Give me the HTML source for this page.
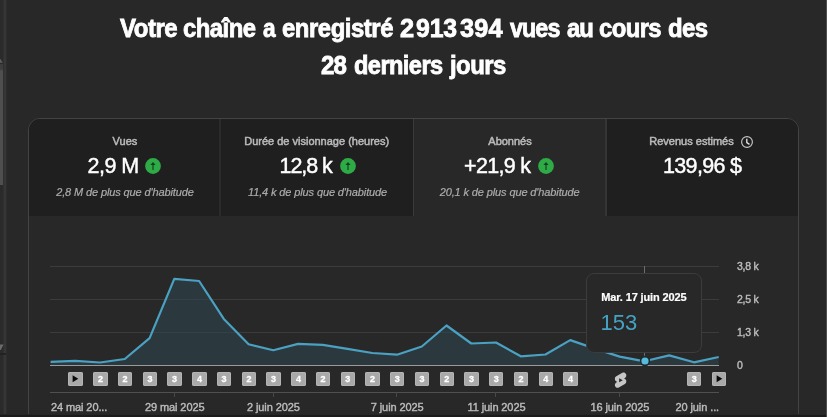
<!DOCTYPE html>
<html lang="fr">
<head>
<meta charset="utf-8">
<title>Analytics</title>
<style>
  html, body { margin: 0; padding: 0; }
  body {
    width: 827px; height: 417px; overflow: hidden; position: relative;
    background: #282828; color: #fff;
    font-family: "Liberation Sans", sans-serif;
  }
  #root { position: absolute; left: 0; top: 0; width: 827px; height: 417px; overflow: hidden; will-change: transform; }
  .abs { position: absolute; }
  /* left scrollbar */
  #sb-track { left: 0; top: 0; width: 8px; height: 415px; background: linear-gradient(to right, #2a2a2a 0, #2b2b2b 3px, #363636 4.3px, #363636 5.6px, #282828 7px); }
  #sb-thumb { left: 0; top: 64px; width: 3px; height: 120.5px; background: linear-gradient(to bottom, #3c3c3c 0, #3e3e3e 5px, #4f4f4f 7px, #4f4f4f 100%); }
  /* title */
  .tw { position: absolute; transform-origin: 0 0; font-weight: bold; font-size: 25px; line-height: 28px; white-space: nowrap; color: #fff; -webkit-text-stroke: 0.8px #fff; }
  /* card */
  #card { left: 28px; top: 118px; width: 771px; height: 320px; border: 1px solid #444; border-radius: 12px; box-sizing: border-box; overflow: hidden; }
  .tab { top: 0; height: 97px; background: #1f1f1f; text-align: center; }
  .tab.sel { background: #282828; }
  .lbl { top: 134px; font-size: 11px; line-height: 14px; color: #bababa; white-space: nowrap; -webkit-text-stroke: 0.5px #bababa; }
  .val { top: 153px; font-size: 21.5px; line-height: 26px; color: #fff; white-space: nowrap; -webkit-text-stroke: 0.45px #fff; }
  .sub { top: 184.7px; font-size: 11px; line-height: 14px; color: #acacac; font-style: italic; white-space: nowrap; letter-spacing: -0.12px; -webkit-text-stroke: 0.2px #acacac; }
  .div { top: 0; width: 2px; height: 97px; background: #2b2b2b; }
  /* chart */
  .ylab { left: 737px; font-size: 10.5px; line-height: 14px; color: #bcbcbc; white-space: nowrap; letter-spacing: -0.25px; -webkit-text-stroke: 0.4px #bcbcbc; }
  .xlab { top: 400px; font-size: 11px; line-height: 14px; color: #bcbcbc; white-space: nowrap; letter-spacing: -0.1px; -webkit-text-stroke: 0.4px #bcbcbc; }
  .mk { top: 372px; width: 14.4px; height: 14px; border-radius: 2px; background: #a9a9a9; box-shadow: inset 0 0 0 1px #b4b4b4; color: #fff; -webkit-text-stroke: 0.3px #fff; font-size: 9px; font-weight: bold; line-height: 14px; text-align: center; }
  .mk svg { display: block; }
  #tip { left: 586px; top: 273px; width: 116px; height: 80px; box-sizing: border-box; border: 1px solid #3c3c3c; border-radius: 8px; background: #282828; }
  #tip .d { position: absolute; left: 14.2px; top: 15.5px; font-size: 11px; letter-spacing: -0.12px; -webkit-text-stroke: 0.2px #fff; line-height: 14px; font-weight: bold; color: #fff; white-space: nowrap; }
  #tip .v { position: absolute; left: 13.5px; top: 36px; font-size: 22px; line-height: 26px; color: #46a2c4; white-space: nowrap; }
  #bottom { left: 0; top: 414px; width: 827px; height: 3px; background: linear-gradient(to bottom, #262626 0, #262626 1px, #1b1b1b 1.4px, #1b1b1b 3px); }
  #redge { left: 826px; top: 0; width: 1px; height: 417px; background: #505050; }
</style>
</head>
<body>
<div id="root">
  <!-- scrollbar -->
  <div class="abs" id="sb-track"></div>
  <div class="abs" id="sb-thumb"></div>
  <svg class="abs" style="left:0;top:56px" width="6" height="8" viewBox="0 0 6 8"><path d="M0 6.8 L0 2.6 L2.8 6.8 Z" fill="#5e5e5e"/></svg>
  <svg class="abs" style="left:0;top:344px" width="6" height="8" viewBox="0 0 6 8"><path d="M0 0.4 L3.6 0.4 L0.8 6 L0 6 Z" fill="#6a6a6a"/></svg>
  <div class="abs" style="left:0;top:353px;width:6px;height:2px;background:#222"></div>

  <!-- title -->
  <span class="tw" style="left:119.7px;top:14px;letter-spacing:-0.51px;transform:scaleX(0.9593)">Votre</span>
  <span class="tw" style="left:183.2px;top:14px;letter-spacing:-0.56px;transform:scaleX(0.9551)">chaîne</span>
  <span class="tw" style="left:262.7px;top:14px;letter-spacing:0.00px;transform:scaleX(0.9058)">a</span>
  <span class="tw" style="left:282.4px;top:14px;letter-spacing:-0.47px;transform:scaleX(0.9553)">enregistré</span>
  <span class="tw" style="left:399.8px;top:14px;letter-spacing:0.00px;transform:scaleX(1.0156)">2</span>
  <span class="tw" style="left:416.4px;top:14px;letter-spacing:-0.13px;transform:scaleX(0.9919)">913</span>
  <span class="tw" style="left:460.4px;top:14px;letter-spacing:0.18px;transform:scaleX(1.0104)">394</span>
  <span class="tw" style="left:510.4px;top:14px;letter-spacing:-0.99px;transform:scaleX(0.9326)">vues</span>
  <span class="tw" style="left:567.1px;top:14px;letter-spacing:-1.04px;transform:scaleX(0.9527)">au</span>
  <span class="tw" style="left:599.4px;top:14px;letter-spacing:-0.61px;transform:scaleX(0.9539)">cours</span>
  <span class="tw" style="left:668.3px;top:14px;letter-spacing:-0.68px;transform:scaleX(0.9592)">des</span>
  <span class="tw" style="left:320.7px;top:51px;letter-spacing:-0.81px;transform:scaleX(0.9619)">28</span>
  <span class="tw" style="left:353.8px;top:51px;letter-spacing:-0.61px;transform:scaleX(0.9441)">derniers</span>
  <span class="tw" style="left:449.8px;top:51px;letter-spacing:-0.54px;transform:scaleX(0.9557)">jours</span>

  <!-- card -->
  <div class="abs" id="card">
    <div class="abs tab" style="left:0;width:192px"></div>
    <div class="abs tab" style="left:192px;width:193px"></div>
    <div class="abs tab sel" style="left:385px;width:192px"></div>
    <div class="abs tab" style="left:577px;width:194px"></div>
    <div class="abs div" style="left:190px"></div>
    <div class="abs div" style="left:384px;width:1px;background:#3a3a3a"></div>
    <div class="abs div" style="left:576px;width:2px;background:#353535"></div>
  </div>
  <div class="abs lbl" style="left:112.6px">Vues</div>
  <div class="abs lbl" style="left:244.2px">Durée de visionnage (heures)</div>
  <div class="abs lbl" style="left:488.3px">Abonnés</div>
  <div class="abs lbl" style="left:649.3px">Revenus estimés</div>
  <svg class="abs" style="left:740.2px;top:135.1px" width="14" height="14" viewBox="0 0 14 14"><circle cx="7" cy="7" r="5.4" fill="none" stroke="#c6c6c6" stroke-width="1.15"/><path d="M6.8 3.7 V7.6 L9.5 9.4" stroke="#e6e6e6" stroke-width="1.35" fill="none"/></svg>
  <div class="abs val" id="v1" style="left:87.5px;letter-spacing:-0.5px">2,9 M</div>
  <div class="abs val" id="v2" style="left:279.5px;letter-spacing:-1.08px">12,8 k</div>
  <div class="abs val" id="v3" style="left:464px;letter-spacing:-0.67px">+21,9 k</div>
  <div class="abs val" id="v4" style="left:663px;letter-spacing:-0.66px">139,96 $</div>
  <svg class="abs" style="left:144.6px;top:158.3px" width="16" height="16" viewBox="0 0 16 16"><circle cx="8" cy="8" r="7.9" fill="#2eab46"/><path d="M8 12 V5.6" stroke="#11421c" stroke-width="1.15" fill="none"/><path d="M8 3.9 L10.6 7 L5.4 7 Z" fill="#11421c"/></svg>
  <svg class="abs" style="left:339.5px;top:158.3px" width="16" height="16" viewBox="0 0 16 16"><circle cx="8" cy="8" r="7.9" fill="#2eab46"/><path d="M8 12 V5.6" stroke="#11421c" stroke-width="1.15" fill="none"/><path d="M8 3.9 L10.6 7 L5.4 7 Z" fill="#11421c"/></svg>
  <svg class="abs" style="left:537.6px;top:158.3px" width="16" height="16" viewBox="0 0 16 16"><circle cx="8" cy="8" r="7.9" fill="#2eab46"/><path d="M8 12 V5.6" stroke="#11421c" stroke-width="1.15" fill="none"/><path d="M8 3.9 L10.6 7 L5.4 7 Z" fill="#11421c"/></svg>
  <div class="abs sub" style="left:56.2px">2,8 M de plus que d'habitude</div>
  <div class="abs sub" style="left:248px">11,4 k de plus que d'habitude</div>
  <div class="abs sub" style="left:439.7px">20,1 k de plus que d'habitude</div>

  <!-- chart -->
  <svg class="abs" style="left:0;top:0" width="827" height="417" viewBox="0 0 827 417">
    <g stroke="#3c3c3c" stroke-width="1">
      <line x1="50" y1="266.5" x2="719" y2="266.5"/>
      <line x1="50" y1="299.5" x2="719" y2="299.5"/>
      <line x1="50" y1="332.5" x2="719" y2="332.5"/>
    </g>
    <path id="area" fill="#2d4650" fill-opacity="0.55" d="M50.6 361.9 L75.3 360.9 L100.1 362.5 L124.8 359 L149.6 338.2 L174.3 278.8 L199.1 281 L223.8 318.9 L248.6 344.3 L273.3 350.2 L298.1 343.9 L322.8 344.8 L347.5 348.8 L372.3 353 L397.0 354.7 L421.8 346.5 L446.5 325.5 L471.3 343.5 L496.0 342.5 L520.8 356.3 L545.5 354.5 L570.2 340.1 L595.0 348.6 L619.7 356.6 L644.5 361.3 L669.2 355.4 L694.0 362.3 L718.7 357.0 L718.7 365.5 L50.6 365.5 Z"/>
    <line x1="50" y1="365.5" x2="719" y2="365.5" stroke="#9a9a9a" stroke-width="1"/>
    <path id="line" fill="none" stroke="#4aa1c2" stroke-width="2.2" stroke-linejoin="round" d="M50.6 361.9 L75.3 360.9 L100.1 362.5 L124.8 359 L149.6 338.2 L174.3 278.8 L199.1 281 L223.8 318.9 L248.6 344.3 L273.3 350.2 L298.1 343.9 L322.8 344.8 L347.5 348.8 L372.3 353 L397.0 354.7 L421.8 346.5 L446.5 325.5 L471.3 343.5 L496.0 342.5 L520.8 356.3 L545.5 354.5 L570.2 340.1 L595.0 348.6 L619.7 356.6 L644.5 361.3 L669.2 355.4 L694.0 362.3 L718.7 357.0"/>
    <line x1="644.5" y1="266" x2="644.5" y2="365" stroke="#6c6c6c" stroke-width="1"/>
    <line x1="50" y1="392.5" x2="719" y2="392.5" stroke="#505050" stroke-width="1"/>
    <g stroke="#484848" stroke-width="1">
      <line x1="174.5" y1="392" x2="174.5" y2="397"/>
      <line x1="273.5" y1="392" x2="273.5" y2="397"/>
      <line x1="396.5" y1="392" x2="396.5" y2="397"/>
      <line x1="495.5" y1="392" x2="495.5" y2="397"/>
      <line x1="619.5" y1="392" x2="619.5" y2="397"/>
    </g>
  </svg>

  <!-- y labels -->
  <div class="abs ylab" style="top:259px">3,8 k</div>
  <div class="abs ylab" style="top:292px">2,5 k</div>
  <div class="abs ylab" style="top:325px">1,3 k</div>
  <div class="abs ylab" style="top:358px">0</div>

  <!-- x labels -->
  <div class="abs xlab" style="left:51px">24 mai 20...</div>
  <div class="abs xlab" style="left:145px">29 mai 2025</div>
  <div class="abs xlab" style="left:247px">2 juin 2025</div>
  <div class="abs xlab" style="left:370.8px">7 juin 2025</div>
  <div class="abs xlab" style="left:467.5px">11 juin 2025</div>
  <div class="abs xlab" style="left:590.5px">16 juin 2025</div>
  <div class="abs xlab" style="left:675.5px">20 juin ...</div>

  <!-- markers -->
  <div id="markers">
    <div class="abs mk pl" style="left:68.4px"><svg width="14" height="14" viewBox="0 0 14 14"><path d="M4.6 3.3 L10.3 6.8 L4.6 10.3 Z" fill="#0a0a0a"/></svg></div>
    <div class="abs mk" style="left:93.2px">2</div>
    <div class="abs mk" style="left:117.9px">2</div>
    <div class="abs mk" style="left:142.7px">3</div>
    <div class="abs mk" style="left:167.4px">3</div>
    <div class="abs mk" style="left:192.2px">4</div>
    <div class="abs mk" style="left:216.9px">3</div>
    <div class="abs mk" style="left:241.7px">2</div>
    <div class="abs mk" style="left:266.4px">3</div>
    <div class="abs mk" style="left:291.2px">4</div>
    <div class="abs mk" style="left:315.9px">2</div>
    <div class="abs mk" style="left:340.6px">3</div>
    <div class="abs mk" style="left:365.4px">2</div>
    <div class="abs mk" style="left:390.1px">3</div>
    <div class="abs mk" style="left:414.9px">3</div>
    <div class="abs mk" style="left:439.6px">2</div>
    <div class="abs mk" style="left:464.4px">3</div>
    <div class="abs mk" style="left:489.1px">3</div>
    <div class="abs mk" style="left:513.9px">2</div>
    <div class="abs mk" style="left:538.6px">4</div>
    <div class="abs mk" style="left:563.3px">4</div>
    <svg class="abs" style="left:611.7px;top:370.8px" width="17.2" height="18.3" preserveAspectRatio="none" viewBox="0 0 24 24"><path fill="#c6c6c6" d="M17.77 10.32l-1.2-.5L18 9.06c1.84-.96 2.53-3.23 1.56-5.06s-3.24-2.53-5.07-1.56L6 6.94c-1.29.68-2.07 2.04-2 3.49.07 1.42.93 2.67 2.22 3.25.03.01 1.2.5 1.2.5L6 14.93c-1.83.97-2.53 3.24-1.56 5.07.97 1.83 3.24 2.53 5.07 1.56l8.5-4.5c1.29-.68 2.06-2.04 1.99-3.49-.07-1.42-.94-2.68-2.23-3.25zM10 14.65v-5.3L15 12l-5 2.65z"/></svg>
    <div class="abs mk" style="left:687.1px">3</div>
    <div class="abs mk pl" style="left:711.8px"><svg width="14" height="14" viewBox="0 0 14 14"><path d="M4.6 3.3 L10.3 6.8 L4.6 10.3 Z" fill="#0a0a0a"/></svg></div>
  </div><!--endmk-->

  <!-- tooltip -->
  <div class="abs" id="tip">
    <div class="d">Mar. 17 juin 2025</div>
    <div class="v">153</div>
  </div>
  <svg class="abs" style="left:636.5px;top:353.1px" width="16" height="16" viewBox="0 0 16 16"><circle cx="8" cy="8" r="4.4" fill="#56bbdd" stroke="#1c2a32" stroke-width="1.6"/></svg>

  <div class="abs" id="bottom"></div>
  <div class="abs" id="redge"></div>
</div>
</body>
</html>
